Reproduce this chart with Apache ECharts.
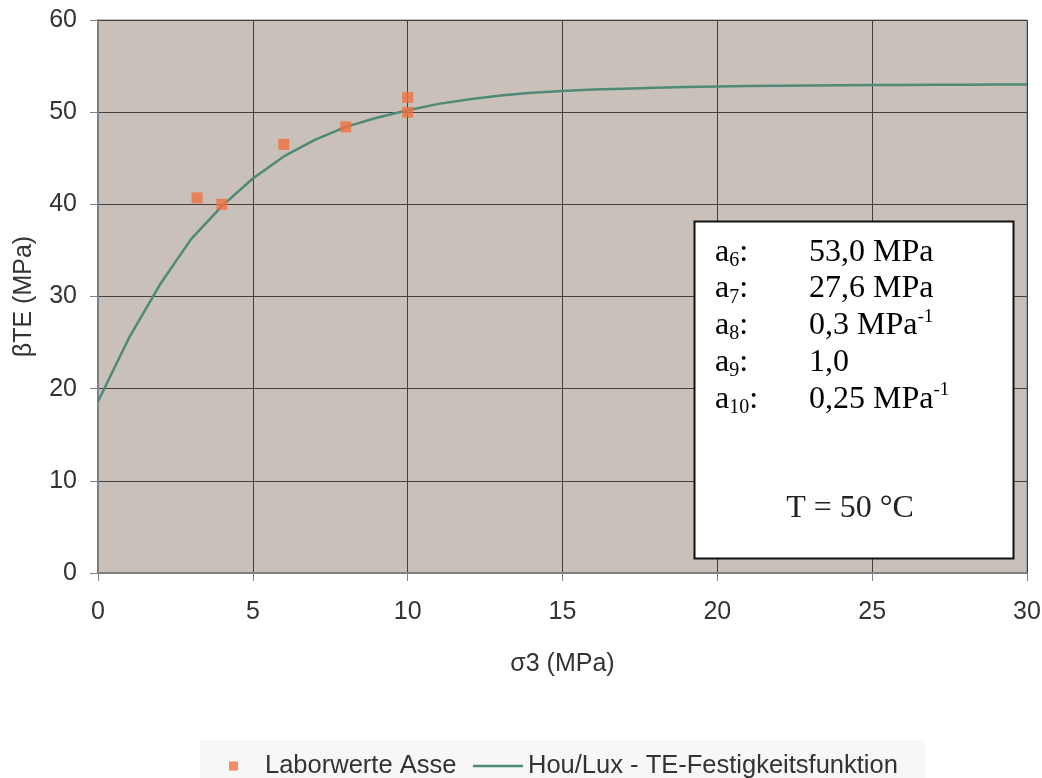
<!DOCTYPE html>
<html><head><meta charset="utf-8">
<script src="https://cdn.jsdelivr.net/npm/echarts@6/dist/echarts.min.js"></script>
<style>html,body{margin:0;padding:0;background:#fff}#c{width:1042px;height:778px}</style>
</head><body><div id="c"></div>
<script>
// Lab values (σ3, βTE)
const labX = [3.2, 4, 6, 8, 10, 10];
const labY = [40.7, 40.0, 46.5, 48.4, 50.0, 51.6];
// Fitted curve
const curveX = [0,1,2,3,4,5,6,7,8,9,10,11,12,13,14,15,16,17,18,19,20,21,22,23,24,25,26,27,28,29,30];
const curveY = [18.6,25.5,31.3,36.2,39.8,42.8,45.2,47.0,48.4,49.4,50.2,50.9,51.4,51.8,52.1,52.3,52.45,52.55,52.65,52.72,52.78,52.83,52.87,52.9,52.92,52.94,52.96,52.97,52.98,52.99,53.0];
const xTicks = {min: 0, max: 30, interval: 5};
const yTicks = {min: 0, max: 60, interval: 10};
const seriesNames = ['Laborwerte Asse', 'Hou/Lux - TE-Festigkeitsfunktion'];
const xName = 'σ3 (MPa)';
const yName = 'βTE (MPa)';
const paramLines = [
  ['6', '53,0 MPa', ''],
  ['7', '27,6 MPa', ''],
  ['8', '0,3 MPa', '-1'],
  ['9', '1,0', ''],
  ['10', '0,25 MPa', '-1']
];
const tempLabel = 'T = 50 °C';

const chart = echarts.init(document.getElementById('c'), null, {renderer: 'canvas'});
const labelColor = '#333';
const serif = '"Liberation Serif", "Times New Roman", serif';
const rich = {
  a: {fontFamily: serif, fontSize: 32, lineHeight: 36.7, color: '#222'},
  sub: {fontFamily: serif, fontSize: 20, lineHeight: 21, verticalAlign: 'bottom', color: '#222'},
  sup: {fontFamily: serif, fontSize: 19, lineHeight: 25, verticalAlign: 'top', color: '#222'}
};
const col1 = paramLines.map(r => '{a|a}{sub|' + r[0] + '}{a|:}').join('\n');
const col2 = paramLines.map(r => '{a|' + r[1] + '}' + (r[2] ? '{sup|' + r[2] + '}' : '')).join('\n');

chart.setOption({
  animation: false,
  backgroundColor: '#ffffff',
  textStyle: {fontFamily: '"Liberation Sans", Arial, sans-serif'},
  grid: {left: 98, right: 15, top: 20, bottom: 205, containLabel: false, outerBoundsMode: 'none',
         show: true, backgroundColor: '#C8C0B9', borderColor: '#808080', borderWidth: 1},
  xAxis: {
    type: 'value', min: xTicks.min, max: xTicks.max, interval: xTicks.interval,
    name: xName, nameLocation: 'middle', nameGap: 79,
    nameTextStyle: {fontSize: 25, color: labelColor},
    axisLine: {show: true, onZero: false, lineStyle: {color: '#808080', width: 2}},
    axisTick: {show: true, length: 8, lineStyle: {color: '#808080', width: 1}},
    axisLabel: {fontSize: 25, color: labelColor, margin: 27},
    splitLine: {show: true, lineStyle: {color: '#404040', width: 1}}
  },
  yAxis: {
    type: 'value', min: yTicks.min, max: yTicks.max, interval: yTicks.interval,
    name: yName, nameLocation: 'middle', nameGap: 61, nameRotate: 90,
    nameTextStyle: {fontSize: 25, color: labelColor},
    axisLine: {show: true, onZero: false, lineStyle: {color: '#808080', width: 2}},
    axisTick: {show: true, length: 8, lineStyle: {color: '#808080', width: 1}},
    axisLabel: {fontSize: 25, color: labelColor, margin: 21},
    splitLine: {show: true, lineStyle: {color: '#404040', width: 1}}
  },
  legend: [
    {data: [seriesNames[0]], left: 224, top: 748, icon: 'rect', itemWidth: 9, itemHeight: 9, itemGap: 0,
     textStyle: {fontSize: 25.5, color: labelColor, padding: [0, 0, 0, 22]}},
    {data: [{name: seriesNames[1], icon: 'rect'}], left: 468, top: 748, itemWidth: 50, itemHeight: 2.5,
     textStyle: {fontSize: 25.5, color: labelColor, padding: [0, 0, 0, 0]}}
  ],
  graphic: [
    {type: 'rect', z: -1, shape: {x: 200, y: 740, width: 725, height: 38}, style: {fill: '#f7f7f5'}, silent: true},
    {type: 'rect', z: 100, shape: {x: 694.5, y: 221.5, width: 319, height: 337}, style: {fill: '#ffffff', stroke: '#111', lineWidth: 2}},
    {type: 'text', z: 101, x: 715, y: 234, style: {text: col1, rich: rich, align: 'left', verticalAlign: 'top'}},
    {type: 'text', z: 101, x: 809, y: 234, style: {text: col2, rich: rich, align: 'left', verticalAlign: 'top'}},
    {type: 'text', z: 101, x: 850, y: 509, style: {text: tempLabel, font: '32px ' + serif, fill: '#222', align: 'center', verticalAlign: 'middle'}}
  ],
  series: [
    {name: seriesNames[0], type: 'scatter', symbol: 'rect', symbolSize: 11, z: 5,
     itemStyle: {color: '#F07040'},
     data: labX.map((x, i) => [x, labY[i]])},
    {name: seriesNames[1], type: 'line', symbol: 'none', smooth: false, z: 4,
     lineStyle: {color: '#4E8A76', width: 2.5}, itemStyle: {color: '#4E8A76'},
     data: curveX.map((x, i) => [x, curveY[i]])}
  ]
});
</script></body></html>
